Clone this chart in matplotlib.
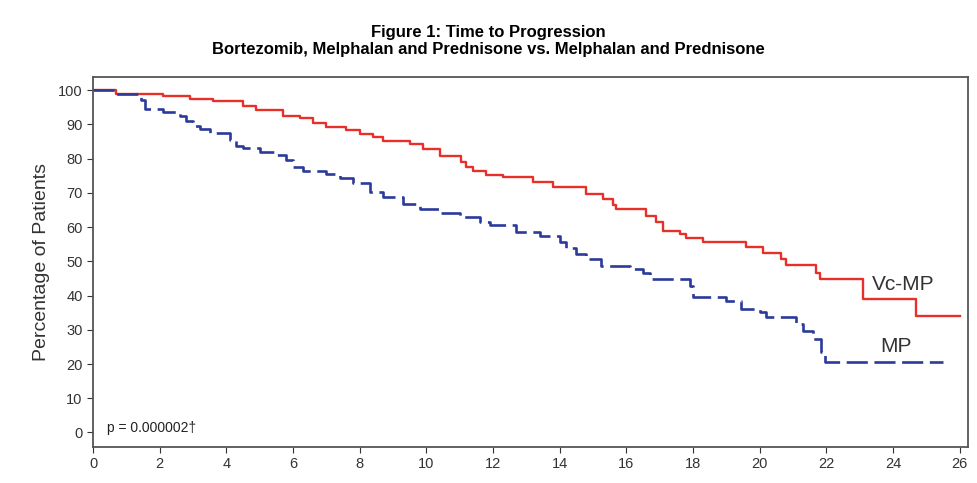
import matplotlib
matplotlib.use("Agg")
from matplotlib import pyplot as plt

plt.rcParams["font.family"] = ["Liberation Sans", "DejaVu Sans"]

# Vc-MP arm: step times (months) and percentage still progression-free
vcmp_time = [0, 0.7, 2.1, 2.9, 3.6, 4.5, 4.9, 5.7, 6.2, 6.6, 7.0, 7.6, 8.0, 8.4,
             8.7, 9.5, 9.9, 10.4, 11.05, 11.2, 11.4, 11.8, 12.3, 13.2, 13.8, 14.8,
             15.3, 15.6, 15.7, 16.6, 16.9, 17.1, 17.6, 17.8, 18.3, 19.6, 20.1,
             20.65, 20.8, 21.7, 21.8, 23.1, 24.7, 26.0]
vcmp_pct = [100, 98.8, 98.2, 97.4, 96.7, 95.4, 94.2, 92.5, 91.8, 90.5, 89.3, 88.2,
            87.1, 86.3, 85.1, 84.2, 82.7, 80.7, 79.0, 77.6, 76.4, 75.3, 74.6, 73.1,
            71.6, 69.6, 68.1, 66.5, 65.2, 63.2, 61.5, 58.9, 57.9, 56.7, 55.5, 54.1,
            52.3, 50.6, 48.8, 46.7, 44.7, 38.9, 33.9, 33.9]

# MP arm
mp_time = [0, 0.65, 1.45, 1.55, 2.1, 2.6, 2.8, 3.0, 3.2, 3.5, 4.1, 4.3, 4.5, 5.0,
           5.5, 5.8, 6.0, 6.3, 7.0, 7.4, 7.8, 8.3, 8.7, 9.3, 9.8, 10.4, 11.0, 11.6,
           11.9, 12.7, 13.4, 14.0, 14.2, 14.5, 14.8, 15.25, 16.1, 16.5, 16.7, 17.9,
           18.0, 19.0, 19.45, 20.0, 20.2, 21.1, 21.3, 21.6, 21.85, 21.95, 25.5]
mp_pct = [100, 98.8, 97.0, 94.6, 93.6, 92.5, 91.0, 89.5, 88.5, 87.6, 85.5, 83.8,
          83.2, 82.0, 81.0, 79.5, 77.6, 76.4, 75.5, 74.3, 72.8, 70.2, 68.7, 66.7,
          65.2, 64.0, 62.8, 61.5, 60.5, 58.6, 57.3, 55.5, 54.0, 52.0, 50.6, 48.5,
          47.7, 46.5, 44.7, 42.7, 39.5, 38.3, 36.0, 35.1, 33.6, 31.6, 29.5, 27.2,
          23.4, 20.5, 20.5]

x_ticks = list(range(0, 27, 2))
y_ticks = list(range(0, 101, 10))

fig = plt.figure(figsize=(9.77, 4.83), dpi=100)
ax = fig.add_axes([0.0952, 0.0755, 0.8956, 0.7650])

ax.step(vcmp_time, vcmp_pct, where="post", color="#e8302a", lw=1.7)
ax.step(mp_time, mp_pct, where="post", color="#2b3a9b", lw=1.9,
        dashes=(8, 2.5))

ax.set_xlim(0, 26.25)
ax.set_ylim(-4.1, 103.8)
ax.set_xticks(x_ticks)
ax.set_yticks(y_ticks)
ax.tick_params(labelsize=10.5, colors="#333333", length=4, width=0.8)
for s in ax.spines.values():
    s.set_color("#555555")
    s.set_linewidth(1.3)

ax.set_ylabel("Percentage of Patients", fontsize=14, color="#333333", labelpad=6)

ax.text(24.3, 43.3, "Vc-MP", fontsize=15, color="#333333", ha="center", va="center")
ax.text(24.1, 25.1, "MP", fontsize=15, color="#333333", ha="center", va="center")
ax.text(0.42, 1.4, "p = 0.000002\u2020", fontsize=10, color="#222222", ha="left", va="center")

fig.text(0.5, 0.933, "Figure 1: Time to Progression", fontsize=12, fontweight="bold",
         ha="center", va="center")
fig.text(0.5, 0.897, "Bortezomib, Melphalan and Prednisone vs. Melphalan and Prednisone",
         fontsize=12, fontweight="bold", ha="center", va="center")

plt.savefig("out.png", dpi=100)
